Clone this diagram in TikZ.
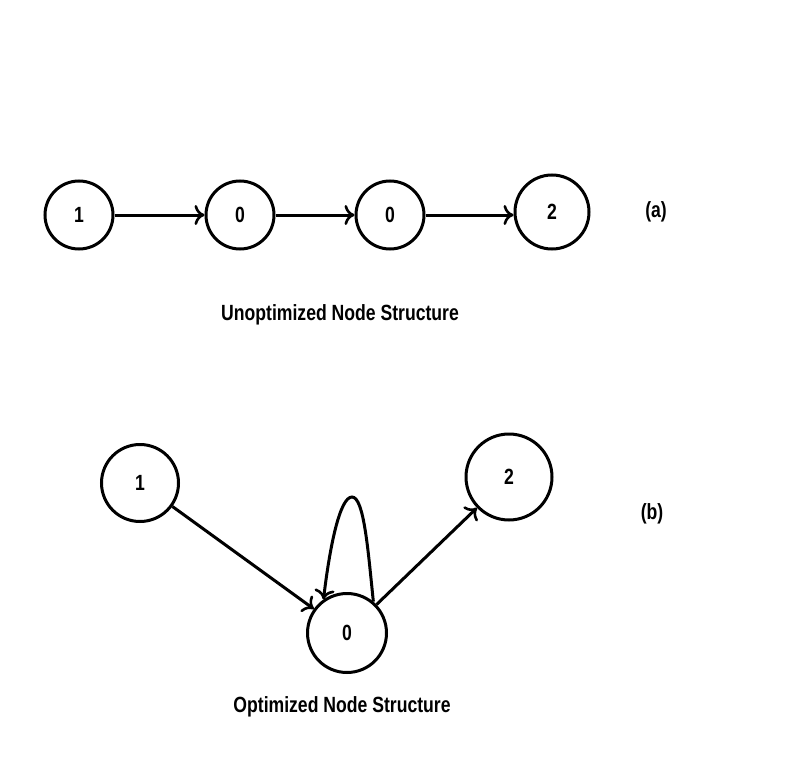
\documentclass[tikz,border=0pt]{standalone}
\usepackage{fontspec}
\setmainfont{Liberation Sans}[FakeStretch=0.8]
\usetikzlibrary{arrows.meta}
\begin{document}
\begin{tikzpicture}[x=1pt,y=-1pt,
  vert/.style={circle,draw,line width=3pt,inner sep=0pt,font=\bfseries\fontsize{22}{26}\selectfont},
  edge/.style={line width=3pt,-{To[length=10pt,width=20pt,line width=2.6pt]}},
  lbl/.style={font=\bfseries\fontsize{22}{26}\selectfont}]
\useasboundingbox (0,0) rectangle (793,757);
% (a)
\node[vert,minimum size=68pt] (a1) at (79,215) {1};
\node[vert,minimum size=68pt] (a2) at (240,215) {0};
\node[vert,minimum size=68pt] (a3) at (390,215) {0};
\node[vert,minimum size=74pt] (a4) at (552,212) {2};
\node[lbl] (la) at (656,212) {(a)};
\node[lbl] (ta) at (340,315) {Unoptimized Node Structure};
\draw[edge] (a1) -- (a2);
\draw[edge] (a2) -- (a3);
\draw[edge] (a3) -- (a3 -| a4.west);
% (b)
\node[vert,minimum size=77pt] (b1) at (140,483) {1};
\node[vert,minimum size=79pt] (b0) at (347,633) {0};
\node[vert,minimum size=86pt] (b2) at (509,477) {2};
\node[lbl] (lb) at (652,514) {(b)};
\node[lbl] (tb) at (342,707) {Optimized Node Structure};
\draw[edge] (b1) -- (b0);
\draw[edge] (b0) -- (b2);
\draw[edge] (b0.50) .. controls (368,550) and (364,497) .. (352,497) .. controls (340,497) and (330,545) .. (b0.125);
\end{tikzpicture}
\end{document}
